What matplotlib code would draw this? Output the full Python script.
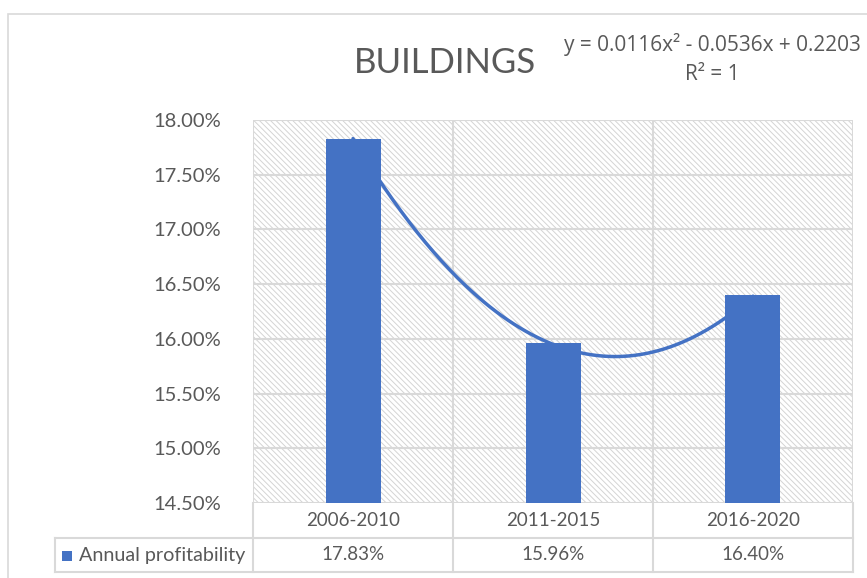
import matplotlib
matplotlib.use("Agg")
import matplotlib.pyplot as plt
import numpy as np
from matplotlib.patches import Rectangle
from matplotlib.lines import Line2D
import matplotlib.transforms as mtransforms

# ---- data ----
categories = ["2006-2010", "2011-2015", "2016-2020"]
series_name = "Annual profitability"
values = [0.1783, 0.1596, 0.1640]
value_labels = ["17.83%", "15.96%", "16.40%"]
trend_coeffs = [0.0116, -0.0536, 0.2203]  # y = a x^2 + b x + c, x = 1..n
y_ticks = [0.145, 0.150, 0.155, 0.160, 0.165, 0.170, 0.175, 0.180]
y_tick_labels = ["14.50%", "15.00%", "15.50%", "16.00%", "16.50%", "17.00%", "17.50%", "18.00%"]
title = "BUILDINGS"
equation = "y = 0.0116x² - 0.0536x + 0.2203"
r2_text = "R² = 1"

plt.rcParams['font.family'] = ['Lato', 'DejaVu Sans']
plt.rcParams['hatch.linewidth'] = 0.7

BLUE = "#4472C4"
GRID = "#D9D9D9"
TXT = "#595959"

W, H = 867, 578
fig = plt.figure(figsize=(W / 100, H / 100), dpi=100)
fig.patch.set_facecolor("white")

# outer chart border
fig.add_artist(Rectangle((8 / W, -0.05), 1.2, 1 - 14 / H + 0.05, transform=fig.transFigure,
                         fill=False, edgecolor=GRID, linewidth=1.2))

L, R, T, B = 253, 853, 120, 503
ax = fig.add_axes([L / W, 1 - B / H, (R - L) / W, (B - T) / H])
ax.set_facecolor("white")

x = np.arange(len(categories))
ax.set_xlim(-0.5, len(categories) - 0.5)
ax.set_ylim(y_ticks[0], y_ticks[-1])

# hatched plot area
ax.add_patch(Rectangle((0, 0), 1, 1, transform=ax.transAxes, facecolor="white",
                       edgecolor="#D4D4D4", hatch="\\" * 6, linewidth=0, zorder=0))

# gridlines
for yt in y_ticks:
    ax.axhline(yt, color=GRID, linewidth=1.5, zorder=1)
for xb in np.arange(-0.5, len(categories), 1.0):
    ax.axvline(xb, color=GRID, linewidth=1.5, zorder=1)

ax.bar(x, values, width=0.275, color=BLUE, zorder=3)

# polynomial trendline
xs = np.linspace(1, len(categories), 200)
ys = np.polyval(trend_coeffs, xs)
ax.plot(xs - 1, ys, color=BLUE, linewidth=2.5, zorder=4, solid_capstyle="round")

for s in ax.spines.values():
    s.set_visible(False)
ax.set_xticks([])
ax.set_yticks(y_ticks)
ax.set_yticklabels(y_tick_labels, fontsize=14.5, color=TXT)
ax.tick_params(axis="y", length=0, pad=23)

# data table below the axes
bt = mtransforms.blended_transform_factory(ax.transData, ax.transAxes)
axh = B - T
row1 = -(538 - B) / axh
row2 = -(572 - B) / axh
left_col = (55 - L) / (R - L)
for xb in np.arange(-0.5, len(categories), 1.0):
    ax.add_line(Line2D([xb, xb], [0, row2], transform=bt, color=GRID, linewidth=1.5, clip_on=False))
ax.add_line(Line2D([left_col, 1], [row1, row1], transform=ax.transAxes, color=GRID, linewidth=1.5, clip_on=False))
ax.add_line(Line2D([left_col, 1], [row2, row2], transform=ax.transAxes, color=GRID, linewidth=1.5, clip_on=False))
ax.add_line(Line2D([left_col, left_col], [row1, row2], transform=ax.transAxes, color=GRID, linewidth=1.5, clip_on=False))

for xi, cat, vl in zip(x, categories, value_labels):
    ax.text(xi, row1 / 2, cat, transform=bt, ha="center", va="center", fontsize=13.5, color=TXT)
    ax.text(xi, (row1 + row2) / 2, vl, transform=bt, ha="center", va="center", fontsize=13.5, color=TXT)

ax.add_patch(Rectangle((62 / W, 1 - 561 / H), 10 / W, 10 / H, transform=fig.transFigure,
                       facecolor=BLUE, edgecolor="none", clip_on=False))
fig.text(79 / W, 1 - 555 / H, series_name, ha="left", va="center", fontsize=14.2, color=TXT)

# title and trendline label
fig.text(445 / W, 1 - 63 / H, title, ha="center", va="center", fontsize=25, color=TXT)
fig.text(712 / W, 1 - 45 / H, equation, ha="center", va="center", fontsize=15, color=TXT,
         family=['Open Sans', 'DejaVu Sans'])
fig.text(712 / W, 1 - 75 / H, r2_text, ha="center", va="center", fontsize=15, color=TXT,
         family=['Open Sans', 'DejaVu Sans'])

fig.savefig("out.png", dpi=100)
